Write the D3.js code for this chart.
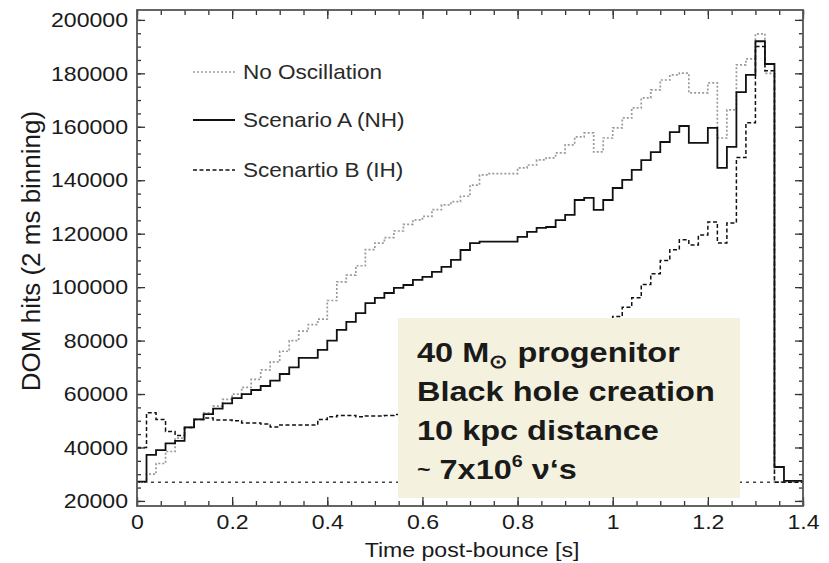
<!DOCTYPE html>
<html>
<head>
<meta charset="utf-8">
<script src="https://cdn.jsdelivr.net/npm/d3@7"></script>
<style>
  body { margin: 0; background: #fff; }
  svg { display: block; }
  text { font-family: "Liberation Sans", Arial, Helvetica, sans-serif; fill: #1a1a1a; }
</style>
</head>
<body>
<svg id="chart" width="829" height="563"></svg>
<script>

// bins of 0.02 s, value = DOM hits in that bin
var binStart = d3.range(70).map(function(i){ return +(i * 0.02).toFixed(2) });

var noOsc = [27000, 30000, 34000, 38500, 43500, 47500, 50500, 53000, 55500, 58000,
             60000, 62500, 65500, 69000, 72000, 76000, 80000, 83500, 86000, 88000,
             95000, 102000, 104500, 108000, 114000, 116500, 118500, 121000, 123500, 125200,
             126500, 129000, 130800, 132000, 134000, 138200, 142000, 142500, 142500, 142500,
             144600, 145700, 147600, 148400, 150200, 153200, 156200, 157700, 150600, 155800,
             159600, 163300, 167100, 170800, 173800, 177500, 179400, 180100, 172700, 172700,
             176400, 155800, 166300, 183200, 185400, 194800, 180000, 27000, 27000, 27000];

var scenA = [27200, 37200, 39000, 41500, 42500, 47500, 50500, 52500, 54500, 56500,
             58500, 60000, 61500, 63000, 65000, 67500, 70000, 73500, 73500, 76500,
             80000, 84000, 87000, 90300, 94000, 96000, 97800, 99700, 100800, 102700,
             103800, 105700, 107600, 110200, 113900, 116500, 117000, 117000, 117000, 117000,
             118800, 120700, 122200, 122500, 125100, 127000, 132600, 133400, 128900, 132600,
             137100, 140100, 143900, 147500, 150500, 154300, 158000, 160300, 154000, 154000,
             159600, 144600, 152500, 173000, 179400, 192000, 183500, 32700, 27500, 27500];

var scenB = [40000, 53000, 50500, 46000, 44500, 47500, 50500, 51000, 50300, 50300,
             50000, 49200, 49200, 48800, 47700, 48400, 48400, 48400, 48400, 50500,
             51500, 52000, 52000, 51500, 51800, 51800, 52000, 52300, 53000, 54000,
             55500, 57000, 58500, 60000, 62000, 64000, 66000, 68000, 70000, 72000,
             74000, 76000, 78000, 80000, 82000, 83500, 85000, 86000, 87000, 87500,
             89000, 92500, 96000, 101000, 105000, 110000, 114000, 117700, 115800, 119500,
             124400, 116500, 124000, 148500, 161500, 190000, 181000, 27000, 27000, 27000];

var background = 27000;

var xTicks = [0, 0.2, 0.4, 0.6, 0.8, 1, 1.2, 1.4];
var yTicks = [20000, 40000, 60000, 80000, 100000, 120000, 140000, 160000, 180000, 200000];
var legendLabels = ["No Oscillation", "Scenario A (NH)", "Scenartio B (IH)"];

var svg = d3.select("#chart");
var pLeft = 137, pRight = 803, pTop = 10, pBottom = 506;
var sx = 1.1; // glyphs in the original are a bit wide

var x = d3.scaleLinear().domain([0, 1.4]).range([pLeft, pRight]);
var y = d3.scaleLinear().domain([18100, 203700]).range([pBottom, pTop]);

var styles = {
	noOsc: {stroke: "#9a9a9a", width: 1.7, dash: "2,2"},
	scenA: {stroke: "#111", width: 1.8, dash: null},
	scenB: {stroke: "#111", width: 1.5, dash: "4,2.5"},
	bg:    {stroke: "#444", width: 1.4, dash: "3,4"}
};

function steps(vals){
	var pts = binStart.map(function(t, i){ return [t, vals[i]] });
	pts.push([1.4, vals[vals.length - 1]]);
	return pts;
}

var line = d3.line()
	.x(function(d){ return x(d[0]) })
	.y(function(d){ return y(d[1]) })
	.curve(d3.curveStepAfter);

svg.append("defs").append("clipPath").attr("id", "plotclip")
	.append("rect").attr("x", pLeft).attr("y", pTop)
	.attr("width", pRight - pLeft).attr("height", pBottom - pTop);

var plot = svg.append("g").attr("clip-path", "url(#plotclip)");

function drawSeries(pts, st){
	plot.append("path")
		.attr("d", line(pts))
		.attr("fill", "none")
		.attr("stroke", st.stroke)
		.attr("stroke-width", st.width)
		.attr("stroke-dasharray", st.dash);
}

drawSeries([[0, background], [1.4, background]], styles.bg);
drawSeries(steps(noOsc), styles.noOsc);
drawSeries(steps(scenB), styles.scenB);
drawSeries(steps(scenA), styles.scenA);

// info box sits on top of the curves
svg.append("rect")
	.attr("x", 398).attr("y", 318)
	.attr("width", 342).attr("height", 180)
	.attr("fill", "#f4f2de");

function stretched(px, py, size, weight, k){
	return svg.append("text")
		.attr("transform", "translate(" + px + "," + py + ") scale(" + (k || sx) + ",1)")
		.style("font-size", size + "px")
		.style("font-weight", weight || "normal");
}

var boxLines = [362, 401, 440, 479];
var bk = 1.16;
var t1 = stretched(417, boxLines[0], 28, "bold", bk);
t1.append("tspan").text("40 M");
t1.append("tspan").attr("dy", 6).style("font-size", "19px").text("\u2299");
t1.append("tspan").attr("dy", -6).text(" progenitor");
stretched(417, boxLines[1], 28, "bold", bk).text("Black hole creation");
stretched(417, boxLines[2], 28, "bold", bk).text("10 kpc distance");
var t4 = stretched(417, boxLines[3], 28, "bold", bk);
t4.append("tspan").attr("dy", -3).style("font-size", "20px").text("~");
t4.append("tspan").attr("dy", 3).text(" 7x10");
t4.append("tspan").attr("dy", -12).style("font-size", "17px").text("6");
t4.append("tspan").attr("dy", 12).text(" \u03bd\u2018s");

// legend
var legendY = [72, 120, 170];
var legendStyles = [styles.noOsc, styles.scenA, styles.scenB];
legendLabels.forEach(function(lab, i){
	var st = legendStyles[i];
	svg.append("line")
		.attr("x1", 193).attr("x2", 235)
		.attr("y1", legendY[i]).attr("y2", legendY[i])
		.attr("stroke", st.stroke)
		.attr("stroke-width", st.width)
		.attr("stroke-dasharray", st.dash);
	stretched(243, legendY[i] + 7, 20.5).style("fill", "#2a2a2a").text(lab);
});

// axes, ticks pointing inward on all four sides
var minorY = d3.range(20000, 200001, 5000);
var minorX = d3.range(0, 1.4001, 0.05);

function styleAxis(g){
	g.select(".domain").remove();
	g.selectAll(".tick line").attr("stroke", "#333").attr("stroke-width", 1.3);
}

var yAxis = svg.append("g").attr("transform", "translate(" + pLeft + ",0)")
	.call(d3.axisLeft(y).tickValues(yTicks).tickSize(-8).tickPadding(9).tickFormat(d3.format("d")));
styleAxis(yAxis);
yAxis.selectAll("text")
	.style("font-size", "21px")
	.attr("x", -9 / sx)
	.attr("transform", "scale(" + sx + ",1)");

svg.append("g").attr("transform", "translate(" + pLeft + ",0)")
	.call(d3.axisLeft(y).tickValues(minorY).tickSize(-4).tickFormat(""))
	.call(styleAxis);

svg.append("g").attr("transform", "translate(" + pRight + ",0)")
	.call(d3.axisRight(y).tickValues(yTicks).tickSize(-8).tickFormat(""))
	.call(styleAxis);
svg.append("g").attr("transform", "translate(" + pRight + ",0)")
	.call(d3.axisRight(y).tickValues(minorY).tickSize(-4).tickFormat(""))
	.call(styleAxis);

var xAxis = svg.append("g").attr("transform", "translate(0," + pBottom + ")")
	.call(d3.axisBottom(x).tickValues(xTicks).tickSize(-9).tickPadding(8).tickFormat(d3.format("~g")));
styleAxis(xAxis);
xAxis.selectAll("text")
	.style("font-size", "21px")
	.attr("transform", "scale(" + sx + ",1)");

svg.append("g").attr("transform", "translate(0," + pBottom + ")")
	.call(d3.axisBottom(x).tickValues(minorX).tickSize(-5).tickFormat(""))
	.call(styleAxis);
svg.append("g").attr("transform", "translate(0," + pTop + ")")
	.call(d3.axisTop(x).tickValues(xTicks).tickSize(-9).tickFormat(""))
	.call(styleAxis);
svg.append("g").attr("transform", "translate(0," + pTop + ")")
	.call(d3.axisTop(x).tickValues(minorX).tickSize(-5).tickFormat(""))
	.call(styleAxis);

// frame
svg.append("rect")
	.attr("x", pLeft).attr("y", pTop)
	.attr("width", pRight - pLeft).attr("height", pBottom - pTop)
	.attr("fill", "none")
	.attr("stroke", "#555")
	.attr("stroke-width", 1.8);

// axis titles
stretched(472, 557, 21).attr("text-anchor", "middle").text("Time post-bounce [s]");

svg.append("text")
	.attr("transform", "translate(40,251) rotate(-90)")
	.attr("text-anchor", "middle")
	.style("font-size", "26px")
	.text("DOM hits (2 ms binning)");

</script>
</body>
</html>
